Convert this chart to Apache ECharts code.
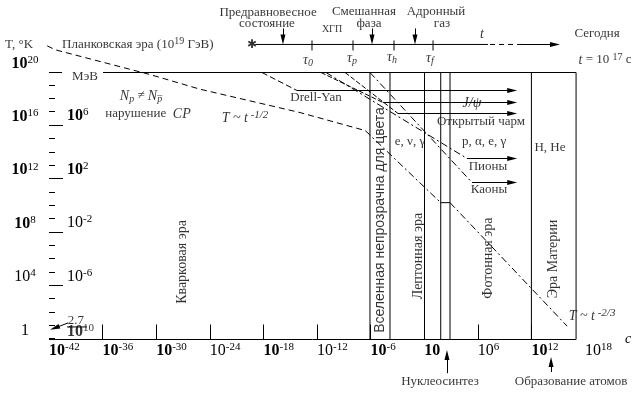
<!DOCTYPE html>
<html><head><meta charset="utf-8">
<script src="https://cdn.jsdelivr.net/npm/echarts@6/dist/echarts.min.js"></script>
<style>html,body{margin:0;padding:0;background:#fff}#c{width:641px;height:395px}</style>
</head><body><div id="c"></div>
<script>
const SERIF = "'Liberation Serif','DejaVu Serif',serif";
const SANS = "'Liberation Sans','DejaVu Sans',sans-serif";

// ---- axes (decimal logarithms: t in s, T in K) ----
const timeLabels = [-42,-36,-30,-24,-18,-12,-6,0,6,12,18];
const timeTicks = [-36,-30,-24,-18,-12,-6,0,6,12];
const boldTime = [-42,-36,-30,-18,-6,0,12];
const kelvinLabels = [0,4,8,12,16,20];
const mevLabels = [-6,-2,2,6];
const mevTicks = [-10,-9,-8,-7,-6,-5,-4,-3,-2,-1,0,1,2,3,4,5,6,7,8,9];
const mevToK = 10.06;          // log10 of 1 MeV expressed in K
const tNow = 17;               // today, 10^17 s
const tMin = -42, TMax = 20;

// ---- era boundaries (log10 t) ----
const eraBounds = [-6.07, -3.83, 1.85, 2.89, 12];

// ---- temperature history ----
const coolingEarly = [[-42.2,22.0],[-41.3,21.7],[-30.7,19.85],[-25.1,18.75],[-13.9,17.0],[-6.6,15.65]];
const coolingLate = [[-6.6,15.65],[1.85,10.25]];
const coolingStep = [[1.85,10.25],[2.89,10.25]];
const coolingMatter = [[2.89,10.25],[16.0,1.0]];

// ---- probes: start of emission, freeze-out, free streaming ----
const probeStart = [[-18.16,20],[-11.55,20],[-8.86,20],[-10.99,20],[-6.07,20]];
const probeFreeze = [[-14.24,18.65],[-4.61,17.75],[-2.93,16.93],[4.79,13.56],[5.35,11.76]];
const probeDash = [[6,3],[5,2],[5,2],[7,3,2,3],[7,3,2,3]];
const probeEnd = 9.85;

// ---- time line on top ----
const timelineY = 22.1;
const timelineSolid = [-18.9, 7.14];
const timelineDashed = [7.37, 10.95];
const timelineArrow = [10.95, 14.64];
const tauX = [-12.56, -7.97, -3.38, 0.99];
const stageArrowX = [-15.81, -5.84, -1.03];

const RICH = {
  nm:{fontFamily:SERIF,fontSize:13,color:'#000',lineHeight:16},
  it:{fontFamily:SERIF,fontSize:14,fontStyle:'italic',color:'#000',lineHeight:16},
  sp:{fontFamily:SERIF,fontSize:10,color:'#000',lineHeight:8,verticalAlign:'top'},
  spi:{fontFamily:SERIF,fontSize:11,fontStyle:'italic',color:'#000',lineHeight:8,verticalAlign:'top'},
  sb:{fontFamily:SERIF,fontSize:10,fontStyle:'italic',color:'#000',lineHeight:8,verticalAlign:'bottom'},
  bd:{fontFamily:SERIF,fontSize:16,fontWeight:'bold',color:'#000',lineHeight:18},
  bn:{fontFamily:SERIF,fontSize:16,color:'#000',lineHeight:18},
  bs:{fontFamily:SERIF,fontSize:11,color:'#000',lineHeight:10,verticalAlign:'top'}
};

const notes = [
  {p:[-46.93,22.1], t:'{nm|T, °K}', align:'left', fs:14},
  {p:[-40.54,22.1], t:'{nm|Планковская эра (10}{sp|19}{nm| ГэВ)}', align:'left'},
  {p:[-37.97,19.66], t:'{nm|МэВ}'},
  {p:[-31.7,18.24], t:'{it|N}{sb|p}{nm| ≠ }{it|N}{sb|p̅}'},
  {p:[-30.92,16.89], t:'{nm|нарушение  }{it|CP}'},
  {p:[-20.06,16.59], t:'{it|T ~ t}{spi| -1/2}'},
  {p:[-12.11,18.09], t:'{nm|Drell-Yan}'},
  {p:[5.35,17.72], t:'{it|J/ψ}'},
  {p:[6.36,16.29], t:'{nm|Открытый чарм}'},
  {p:[-1.59,14.79], t:'{nm|e, ν, γ}'},
  {p:[6.7,14.79], t:'{nm|p, α, e, γ}'},
  {p:[7.14,12.92], t:'{nm|Пионы}'},
  {p:[7.26,11.2], t:'{nm|Каоны}'},
  {p:[14.08,14.34], t:'{nm|H, He}'},
  {p:[-27.11,5.81], t:'Кварковая эра', rot:90, fs:14},
  {p:[-4.95,8.95], t:'Вселенная непрозрачна для цвета', rot:90, fs:14, ff:SANS},
  {p:[-0.69,6.25], t:'Лептонная эра', rot:90, fs:14},
  {p:[7.14,6.1], t:'Фотонная эра', rot:90, fs:14},
  {p:[14.42,6.03], t:'Эра Материи', rot:90, fs:14},
  {p:[18.79,1.76], t:'{it|T ~ t}{spi| -2/3}'},
  {p:[-38.98,1.39], t:'{nm|2.7}'},
  {p:[-39.98,0.56], t:'{bd|10}{bs|10}', align:'left'},
  {p:[1.77,-3.18], t:'{nm|Нуклеосинтез}'},
  {p:[16.44,-3.18], t:'{nm|Образование атомов}'},
  {p:[-17.48,24.46], t:'{nm|Предравновесное}'},
  {p:[-17.6,23.63], t:'{nm|состояние}'},
  {p:[-10.32,23.26], t:'ХГП', fs:10},
  {p:[-6.74,24.53], t:'{nm|Смешанная}'},
  {p:[-6.18,23.63], t:'{nm|фаза}'},
  {p:[1.32,24.53], t:'{nm|Адронный}'},
  {p:[1.99,23.63], t:'{nm|газ}'},
  {p:[6.47,22.88], t:'{it|t}'},
  {p:[19.35,22.88], t:'{nm|Сегодня}'},
  {p:[20.24,20.94], t:'{it|t}{nm| = 10 }{sp|17}{nm| с}'},
  {p:[-13.01,20.94], t:'{it|τ}{sb|0}'},
  {p:[-8.08,21.09], t:'{it|τ}{sb|p}'},
  {p:[-3.6,21.16], t:'{it|τ}{sb|h}'},
  {p:[0.65,21.09], t:'{it|τ}{sb|f}'},
  {p:[-19.28,22.1], t:'✱', fs:12, ff:SANS}
];

const ARROW = 'path://M0,0L0.01,0M10,0L10.01,0M5,0L7.5,11L2.5,11Z';

// frame + era boundaries
const frame = [
  [[tMin,0],[tNow,0]],
  [[tMin,TMax],[-40.54,TMax]],
  [[-35.95,TMax],[tNow,TMax]],
  [[tNow,0],[tNow,TMax]]
].concat(eraBounds.map(x => [[x,0],[x,TMax]]))
 .concat([coolingStep, [[-39.98,0.94],[-37.75,0.94]]])
 .concat([[[timelineSolid[0],timelineY],[timelineSolid[1],timelineY]]])
 .concat(tauX.map(x => [[x,21.65],[x,22.4]]));

const arrows = probeFreeze.map(f => [f,[probeEnd,f[1]]])
  .concat([[[2.55,-2.52],[2.55,-1.16]], [[14.2,-2.43],[14.2,-1.68]], [[-39.87,1.24],[-41.36,0.86]]])
  .concat(stageArrowX.map(x => [[x,23.3],[x,22.47]]))
  .concat([[[timelineArrow[0],timelineY],[timelineArrow[1],timelineY]]]);

const dashed = [
  {coords: coolingEarly, lineStyle:{type:[6,4]}},
  {coords: coolingLate, lineStyle:{type:[7,3,2,3]}},
  {coords: coolingMatter, lineStyle:{type:[7,3,2,3]}},
  {coords: [[timelineDashed[0],timelineY],[timelineDashed[1],timelineY]], lineStyle:{type:[5,4]}}
].concat(probeStart.map((s,i) => ({coords:[s, probeFreeze[i]], lineStyle:{type:probeDash[i]}})));

const chart = echarts.init(document.getElementById('c'), null, {renderer:'canvas'});
chart.setOption({
  animation:false,
  backgroundColor:'#fff',
  grid:{left:49, right:56, top:72.5, bottom:55.5},
  xAxis:{type:'value', min:tMin, max:18, axisLine:{show:false}, splitLine:{show:false},
    axisTick:{show:true, inside:true, length:15, customValues:timeTicks, lineStyle:{color:'#000',width:1}},
    axisLabel:{customValues:timeLabels, align:'left', margin:2, rich:RICH,
      formatter: v => { const b = boldTime.indexOf(v) >= 0 ? 'bd' : 'bn'; return v === 0 ? '{'+b+'|10}' : '{'+b+'|10}{bs|'+v+'}'; }},
    name:'с', nameLocation:'end', nameGap:40,
    nameTextStyle:{fontFamily:SERIF, fontStyle:'italic', fontSize:14, color:'#000', padding:[24,0,0,0]}},
  yAxis:[
    {type:'value', min:0, max:TMax, position:'left', splitLine:{show:false},
     axisLine:{show:true, lineStyle:{color:'#000', width:1}}, axisTick:{show:false},
     axisLabel:{customValues:kelvinLabels, margin:24, align:'center', verticalAlign:'bottom', rich:RICH,
       formatter: v => v === 0 ? '{bn|1}' : (v === 4 ? '{bn|10}{bs|4}' : '{bd|10}{bs|'+v+'}')}},
    {type:'value', min:0, max:TMax, position:'left', splitLine:{show:false}, axisLine:{show:false},
     axisTick:{show:true, inside:true, length:6, customValues:mevTicks.map(m => m + mevToK), lineStyle:{color:'#000'}},
     axisLabel:{show:false}},
    {type:'value', min:0, max:TMax, position:'left', splitLine:{show:false}, axisLine:{show:false},
     axisTick:{show:true, inside:true, length:14, customValues:mevLabels.map(m => m + mevToK), lineStyle:{color:'#000'}},
     axisLabel:{inside:true, margin:18, customValues:mevLabels.map(m => m + mevToK), verticalAlign:'bottom', rich:RICH,
       formatter: v => { const m = Math.round(v - mevToK); return (m > 0 ? '{bd|10}' : '{bn|10}') + '{bs|' + m + '}'; }}}
  ],
  series:[
    {type:'lines', coordinateSystem:'cartesian2d', polyline:true, clip:false, silent:true,
     lineStyle:{color:'#000', width:1, opacity:1}, data: frame.map(c => ({coords:c}))},
    {type:'lines', coordinateSystem:'cartesian2d', polyline:true, clip:false, silent:true,
     lineStyle:{color:'#000', width:1, opacity:1}, data: dashed},
    {type:'lines', coordinateSystem:'cartesian2d', polyline:false, clip:false, silent:true,
     symbol:['none', ARROW], symbolSize:10,
     lineStyle:{color:'#000', width:1, opacity:1, curveness:0}, itemStyle:{color:'#000'}, data: arrows.map(c => ({coords:c}))},
    {type:'scatter', clip:false, silent:true, symbolSize:1, itemStyle:{color:'rgba(0,0,0,0)'}, z:10,
     data: notes.map(n => ({value:n.p, label:{show:true, position:'inside', formatter:() => n.t,
       rotate:n.rot || 0, align:n.align || 'center', verticalAlign:'middle', rich:RICH,
       fontFamily:n.ff || SERIF, fontSize:n.fs || 13, color:'#000'}}))}
  ]
});
</script></body></html>
